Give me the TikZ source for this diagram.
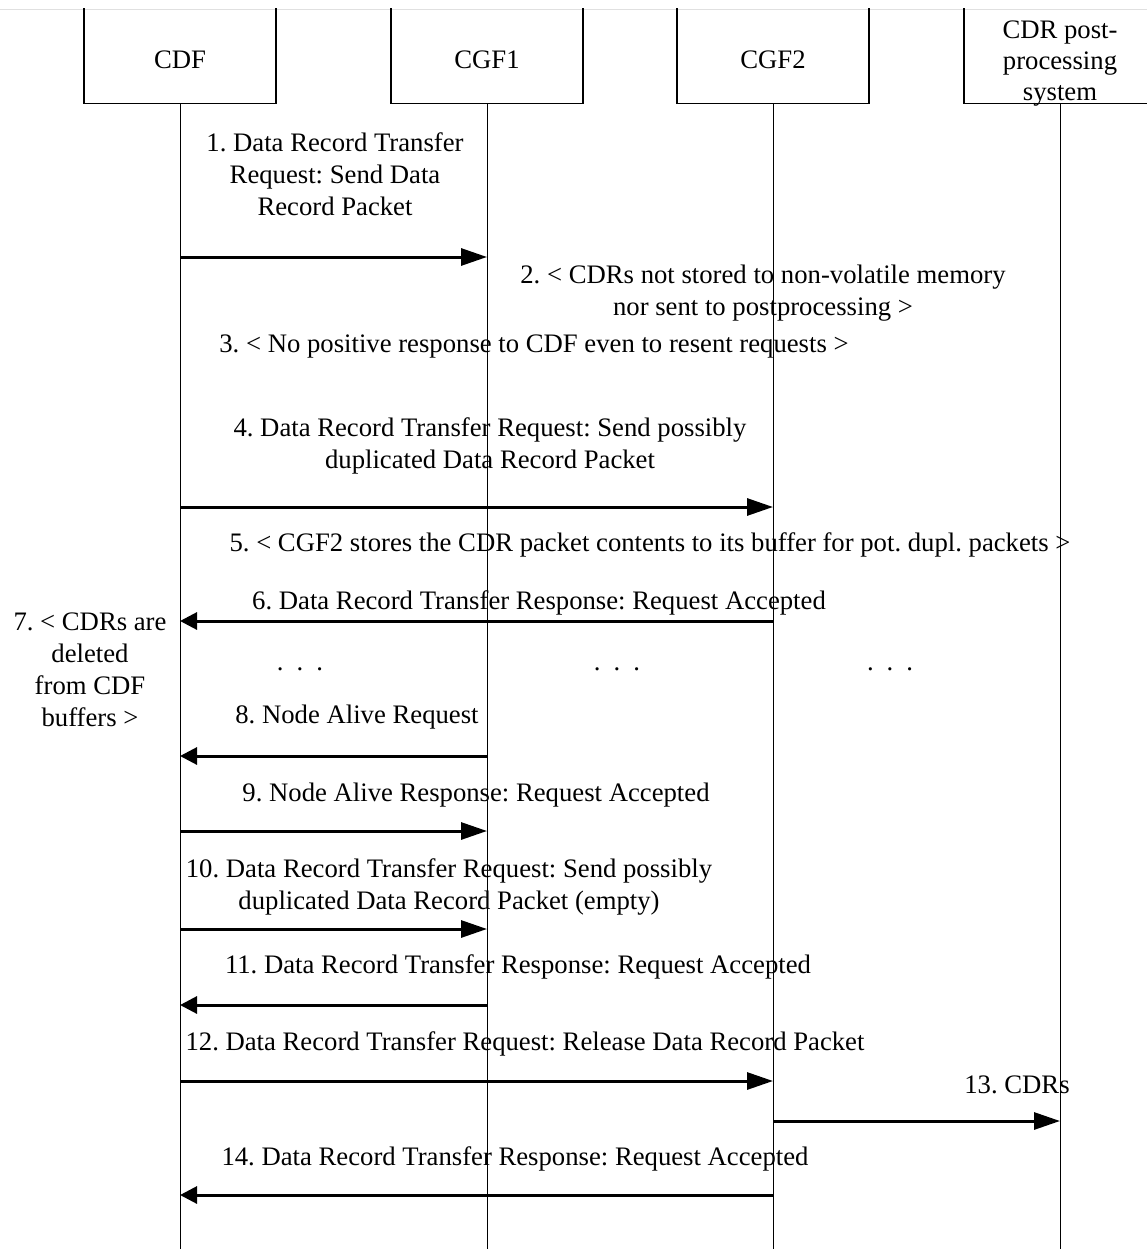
\documentclass[tikz,border=0pt]{standalone}
\usepackage{fontspec}
\setmainfont{Liberation Serif}
\usetikzlibrary{arrows.meta}
\frenchspacing
\tikzset{
  lbox/.style={draw, line width=1.3pt, minimum width=192pt, minimum height=120pt, anchor=south, inner sep=0pt},
  ttl/.style={align=center, inner sep=0pt, font=\fontsize{26.7}{31}\selectfont},
  lbl/.style={align=center, inner sep=0pt, font=\fontsize{26.7}{32}\selectfont},
  life/.style={line width=0.9pt},
  msgr/.style={line width=3pt, -{Triangle[length=26pt,width=17pt]}},
  msgl/.style={line width=3pt, -{Triangle[length=17pt,width=17pt]}},
}
\begin{document}
\begin{tikzpicture}[x=1pt,y=-1pt]
\useasboundingbox (0,0) rectangle (1147,1249);
\coordinate (topl) at (0,9);
\coordinate (topr) at (1147,9);
\draw[black!12, line width=0.8pt] (topl) -- (topr);
\begin{scope}
\clip (0,9) rectangle (1147,1249);
\node[lbox] (cdfbox) at (180,104) {};
\node[lbox] (cgf1box) at (487,104) {};
\node[lbox] (cgf2box) at (773,104) {};
\node[lbox] (cdrbox) at (1060,104) {};
\end{scope}
\node[ttl] (cdft) at (180,60) {CDF};
\node[ttl] (cgf1t) at (487,60) {CGF1};
\node[ttl] (cgf2t) at (773,60) {CGF2};
\node[ttl] (cdrt) at (1060,64) {CDR post-\\processing\\system};

\coordinate (cdfend) at (180,1249);
\coordinate (cgf1end) at (487,1249);
\coordinate (cgf2end) at (773,1249);
\coordinate (cdrend) at (1060,1249);
\draw[life] (cdfbox.south) -- (cdfend);
\draw[life] (cgf1box.south) -- (cgf1end);
\draw[life] (cgf2box.south) -- (cgf2end);
\draw[life] (cdrbox.south) -- (cdrend);

% messages
\draw[msgr] (cdfbox.south |- 0,257) -- (cgf1box.south |- 0,257);
\draw[msgr] (cdfbox.south |- 0,507) -- (cgf2box.south |- 0,507);
\draw[msgl] (cgf2box.south |- 0,621) -- (cdfbox.south |- 0,621);
\draw[msgl] (cgf1box.south |- 0,756) -- (cdfbox.south |- 0,756);
\draw[msgr] (cdfbox.south |- 0,831) -- (cgf1box.south |- 0,831);
\draw[msgr] (cdfbox.south |- 0,929) -- (cgf1box.south |- 0,929);
\draw[msgl] (cgf1box.south |- 0,1005) -- (cdfbox.south |- 0,1005);
\draw[msgr] (cdfbox.south |- 0,1081) -- (cgf2box.south |- 0,1081);
\draw[msgr] (cgf2box.south |- 0,1121) -- (cdrbox.south |- 0,1121);
\draw[msgl] (cgf2box.south |- 0,1195) -- (cdfbox.south |- 0,1195);

% labels
\node[lbl] (l1) at (335,174) {1. Data Record Transfer\\Request: Send Data\\Record Packet};
\node[lbl] (l2) at (763,293) {2. < CDRs not stored to non-volatile memory\\nor sent to postprocessing >};
\node[lbl] (l3) at (534,347) {3. < No positive response to CDF even to resent requests >};
\node[lbl] (l4) at (490,446) {4. Data Record Transfer Request: Send possibly\\duplicated Data Record Packet};
\node[lbl] (l5) at (650,545) {5. < CGF2 stores the CDR packet contents to its buffer for pot. dupl. packets >};
\node[lbl] (l6) at (539,603) {6. Data Record Transfer Response: Request Accepted};
\node[lbl] (l7) at (90,670) {7. < CDRs are\\deleted\\from CDF\\buffers >};
\node[lbl] (d1) at (300,669) {.\hspace{13pt}.\hspace{13pt}.};
\node[lbl] (d2) at (617,669) {.\hspace{13pt}.\hspace{13pt}.};
\node[lbl] (d3) at (890,669) {.\hspace{13pt}.\hspace{13pt}.};
\node[lbl] (l8) at (357,717) {8. Node Alive Request};
\node[lbl] (l9) at (476,795) {9. Node Alive Response: Request Accepted};
\node[lbl] (l10) at (449,887) {10. Data Record Transfer Request: Send possibly\\duplicated Data Record Packet (empty)};
\node[lbl] (l11) at (518,967) {11. Data Record Transfer Response: Request Accepted};
\node[lbl] (l12) at (525,1044) {12. Data Record Transfer Request: Release Data Record Packet};
\node[lbl] (l13) at (1017,1085) {13. CDRs};
\node[lbl] (l14) at (515,1159) {14. Data Record Transfer Response: Request Accepted};
\end{tikzpicture}
\end{document}
